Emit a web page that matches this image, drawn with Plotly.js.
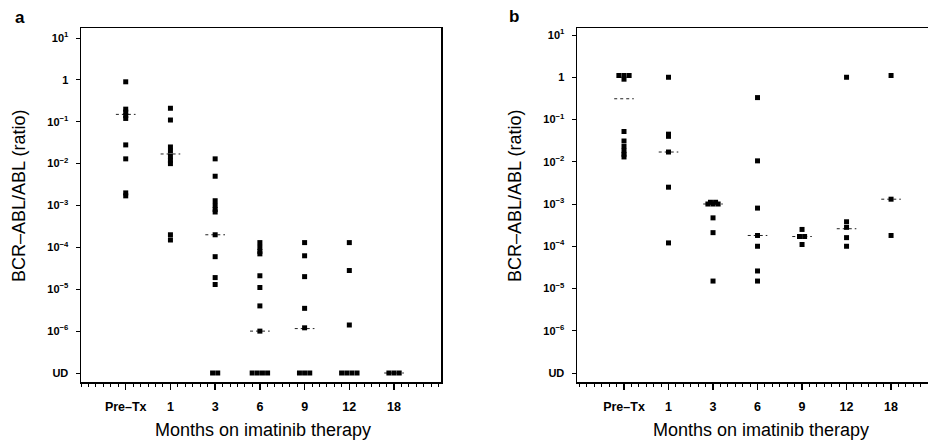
<!DOCTYPE html>
<html>
<head>
<meta charset="utf-8">
<script src="https://cdn.plot.ly/plotly-3.0.1.min.js"></script>
<style>html,body{margin:0;padding:0;background:#fff;}#chart{width:928px;height:442px;}</style>
</head>
<body>
<div id="chart"></div>
<script>
// ---------- data ----------
const categories = ['Pre\u2013Tx', '1', '3', '6', '9', '12', '18'];
const UD = 1e-7; // undetectable, plotted on the "UD" row
const yTickVals = [10, 1, 0.1, 0.01, 1e-3, 1e-4, 1e-5, 1e-6, UD];
const yTickText = ['10<sup>1</sup>', '1', '10<sup>\u22121</sup>', '10<sup>\u22122</sup>', '10<sup>\u22123</sup>',
                   '10<sup>\u22124</sup>', '10<sup>\u22125</sup>', '10<sup>\u22126</sup>', 'UD'];

// Panel a
const a_preTx = [0.9, 0.2, 0.17, 0.14, 0.12, 0.028, 0.013, 0.002, 0.0017];
const a_m1    = [0.21, 0.11, 0.025, 0.02, 0.015, 0.012, 0.01, 2e-4, 1.5e-4];
const a_m3    = [0.013, 0.005, 0.0013, 0.001, 0.0008, 0.0007, 2e-4, 6e-5, 1.9e-5, 1.3e-5, UD, UD];
const a_m6    = [1.3e-4, 1e-4, 8e-5, 7e-5, 2.1e-5, 1.1e-5, 4e-6, 1e-6, UD, UD, UD, UD];
const a_m9    = [1.3e-4, 6.3e-5, 2e-5, 3.5e-6, 1.2e-6, UD, UD, UD];
const a_m12   = [1.3e-4, 2.8e-5, 1.4e-6, UD, UD, UD, UD];
const a_m18   = [UD, UD, UD];
const a_medians = [0.15, 0.017, 2e-4, 1e-6, 1.15e-6, null, UD];

// Panel b
const b_preTx = [1.1, 1.1, 1.1, 0.9, 0.052, 0.031, 0.023, 0.018, 0.015, 0.013];
const b_m1    = [1.0, 0.045, 0.04, 0.017, 0.0025, 1.2e-4];
const b_m3    = [1.1e-3, 1.1e-3, 1e-3, 1e-3, 1e-3, 4.7e-4, 2.1e-4, 1.5e-5];
const b_m6    = [0.33, 0.0105, 8e-4, 1.8e-4, 1e-4, 2.6e-5, 1.5e-5];
const b_m9    = [2.5e-4, 1.7e-4, 1.7e-4, 1.1e-4];
const b_m12   = [1.0, 3.8e-4, 2.8e-4, 1.6e-4, 1e-4];
const b_m18   = [1.1, 1.3e-3, 1.8e-4];
const b_medians = [0.31, 0.017, 1e-3, 1.8e-4, 1.7e-4, 2.6e-4, 1.3e-3];

const panelA = [a_preTx, a_m1, a_m3, a_m6, a_m9, a_m12, a_m18];
const panelB = [b_preTx, b_m1, b_m3, b_m6, b_m9, b_m12, b_m18];

// ---------- build ----------
const TIE_STEP = 0.115; // horizontal spread of tied values (category units)
function pointsFor(groups) {
  const xs = [], ys = [];
  groups.forEach((vals, gi) => {
    const counts = {};
    vals.forEach(v => { counts[v] = (counts[v] || 0) + 1; });
    const seen = {};
    vals.forEach(v => {
      const n = counts[v];
      const k = seen[v] = (seen[v] === undefined ? 0 : seen[v] + 1);
      xs.push(gi + (k - (n - 1) / 2) * TIE_STEP);
      ys.push(v);
    });
  });
  return {xs, ys};
}
function medianLines(meds) {
  const xs = [], ys = [];
  meds.forEach((m, i) => {
    if (m === null) return;
    xs.push(i - 0.22, i + 0.22, null);
    ys.push(m, m, null);
  });
  return {xs, ys};
}

const pa = pointsFor(panelA), pb = pointsFor(panelB);
const ma = medianLines(a_medians), mb = medianLines(b_medians);

const medLine = {color: '#222', width: 1, dash: 'dot'};
const mk = {symbol: 'square', size: 5, color: '#000'};

const traces = [
  {x: ma.xs, y: ma.ys, xaxis: 'x', yaxis: 'y', mode: 'lines', line: medLine, hoverinfo: 'skip', showlegend: false},
  {x: pa.xs, y: pa.ys, xaxis: 'x', yaxis: 'y', mode: 'markers', marker: mk, showlegend: false},
  {x: mb.xs, y: mb.ys, xaxis: 'x2', yaxis: 'y2', mode: 'lines', line: medLine, hoverinfo: 'skip', showlegend: false},
  {x: pb.xs, y: pb.ys, xaxis: 'x2', yaxis: 'y2', mode: 'markers', marker: mk, showlegend: false}
];

const W = 928, H = 442;
const px = v => v / W, py = v => 1 - v / H;

function xAxis(domain, range, anchor) {
  return {
    domain, range, anchor,
    tickmode: 'array', tickvals: categories.map((c, i) => i), ticktext: categories,
    ticks: 'outside', ticklen: 6, tickwidth: 1.5, tickcolor: '#000',
    minor: {tick0: 0, dtick: 1 / 6, ticks: 'outside', ticklen: 3, tickwidth: 1, tickcolor: '#000', showgrid: false},
    showline: true, linewidth: 1.5, linecolor: '#000', mirror: true,
    showgrid: false, zeroline: false,
    tickfont: {family: 'Liberation Sans, Arial, sans-serif', size: 12.5, weight: 'bold', color: '#000'},
    ticklabelstandoff: 6
  };
}
function yAxis(domain, range, anchor) {
  return {
    domain, range, anchor, type: 'log',
    tickmode: 'array', tickvals: yTickVals, ticktext: yTickText,
    ticks: 'outside', ticklen: 4, tickwidth: 1, tickcolor: '#000',
    showline: true, linewidth: 1.5, linecolor: '#000', mirror: true,
    showgrid: false, zeroline: false,
    tickfont: {family: 'Liberation Sans, Arial, sans-serif', size: 11, weight: 'bold', color: '#000'},
    ticklabelstandoff: 5
  };
}

const titleFont = {family: 'Liberation Sans, Arial, sans-serif', size: 18, color: '#000'};
const labFont = {family: 'Liberation Sans, Arial, sans-serif', size: 17, weight: 'bold', color: '#000'};

const layout = {
  width: W, height: H,
  margin: {l: 0, r: 0, t: 0, b: 0},
  paper_bgcolor: '#fff', plot_bgcolor: '#fff',
  showlegend: false,
  xaxis: xAxis([px(81), px(441)], [-1.0, 7.05], 'y'),
  yaxis: yAxis([py(382), py(28)], [-7.215, 1.239], 'x'),
  xaxis2: xAxis([px(577), 1], [-1.056, 6.83], 'y2'),
  yaxis2: yAxis([py(382), py(28)], [-7.213, 1.166], 'x2'),
  annotations: [
    {text: 'a', x: px(20), y: py(18), xref: 'paper', yref: 'paper', showarrow: false, font: labFont, xanchor: 'center', yanchor: 'middle'},
    {text: 'b', x: px(514), y: py(17), xref: 'paper', yref: 'paper', showarrow: false, font: labFont, xanchor: 'center', yanchor: 'middle'},
    {text: 'BCR\u2013ABL/ABL (ratio)', x: px(19), y: py(196), xref: 'paper', yref: 'paper', textangle: -90, showarrow: false, font: titleFont, xanchor: 'center', yanchor: 'middle'},
    {text: 'BCR\u2013ABL/ABL (ratio)', x: px(515), y: py(196), xref: 'paper', yref: 'paper', textangle: -90, showarrow: false, font: titleFont, xanchor: 'center', yanchor: 'middle'},
    {text: 'Months on imatinib therapy', x: px(263), y: py(430), xref: 'paper', yref: 'paper', showarrow: false, font: titleFont, xanchor: 'center', yanchor: 'middle'},
    {text: 'Months on imatinib therapy', x: px(761), y: py(430), xref: 'paper', yref: 'paper', showarrow: false, font: titleFont, xanchor: 'center', yanchor: 'middle'}
  ]
};

Plotly.newPlot('chart', traces, layout, {staticPlot: true, displayModeBar: false});
</script>
</body>
</html>
